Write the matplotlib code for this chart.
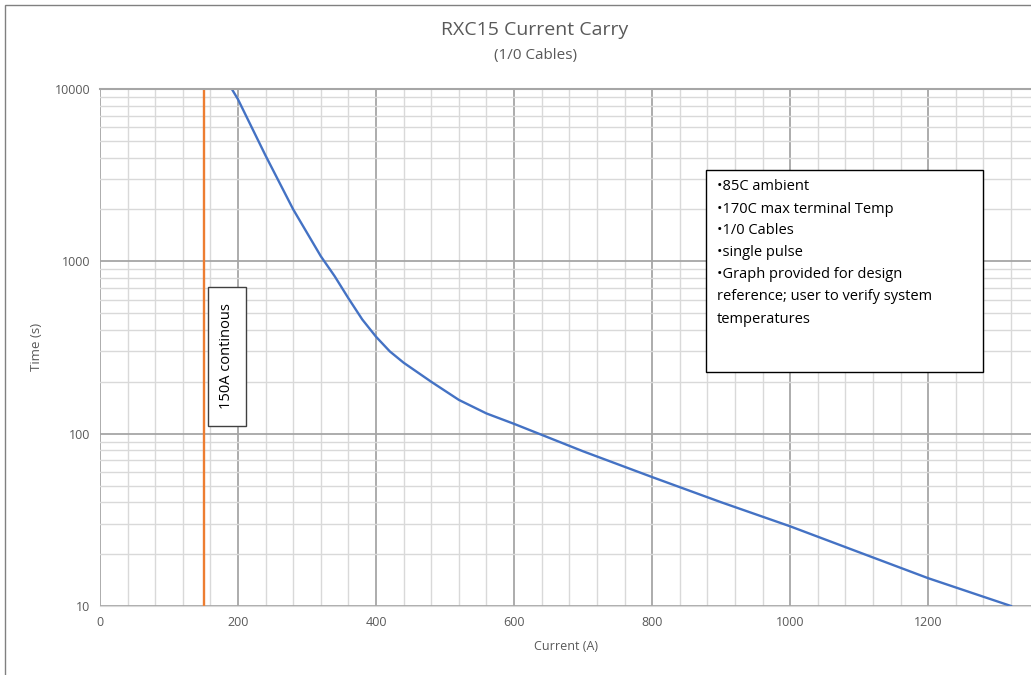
import matplotlib
matplotlib.use('Agg')
from matplotlib import pyplot as plt
from matplotlib.patches import Rectangle
from matplotlib.ticker import FixedLocator, NullFormatter

plt.rcParams['font.family'] = ['Open Sans', 'DejaVu Sans']

current = [191, 200, 240, 280, 320, 340, 360, 380, 400, 420, 440, 480, 520, 560, 600,
           700, 800, 900, 1000, 1100, 1200, 1320]
time_s = [10000, 8700, 4100, 2000, 1070, 820, 610, 460, 365, 300, 258, 200, 157, 131, 114,
          79, 56, 40, 29, 20.5, 14.5, 10]
continuous_a = 150

x_major = [0, 200, 400, 600, 800, 1000, 1200]
y_major = [10, 100, 1000, 10000]
notes = ['•85C ambient', '•170C max terminal Temp', '•1/0 Cables', '•single pulse',
         '•Graph provided for design', 'reference; user to verify system', 'temperatures']

W, H = 1031, 675
fig = plt.figure(figsize=(W / 100, H / 100), dpi=100)
ax = fig.add_axes([100 / W, (H - 606) / H, (W - 100) / W, (606 - 89) / H])

ax.set_yscale('log')
ax.set_xlim(0, 1349)
ax.set_ylim(10, 10000)

ax.xaxis.set_major_locator(FixedLocator(x_major))
ax.xaxis.set_minor_locator(FixedLocator([v for v in range(0, 1400, 40) if v % 200]))
ax.yaxis.set_major_locator(FixedLocator(y_major))
ax.yaxis.set_minor_locator(FixedLocator([m * 10 ** e for e in range(1, 4) for m in range(2, 10)]))
ax.yaxis.set_minor_formatter(NullFormatter())
ax.set_yticklabels([str(v) for v in y_major])

ax.grid(which='major', color='#a6a6a6', linewidth=1.3)
ax.grid(which='minor', color='#d9d9d9', linewidth=1.0)
ax.set_axisbelow(True)
ax.tick_params(which='both', length=0, labelsize=9, colors='#595959', pad=7)
for s in ['right', 'left']:
    ax.spines[s].set_visible(False)
ax.spines['top'].set_color('#a6a6a6')
ax.spines['top'].set_linewidth(1.5)
ax.spines['bottom'].set_color('#d9d9d9')

ax.plot(current, time_s, color='#4472C4', linewidth=1.7)
ax.axvline(continuous_a, color='#ED7D31', linewidth=1.7)

ax.set_xlabel('Current (A)', fontsize=9, color='#595959', labelpad=8)
fig.text(37 / W, 1 - 347 / H, 'Time (s)', rotation=90, ha='center', va='center',
         fontsize=9.5, color='#595959')

fig.text(535 / W, 1 - 30 / H, 'RXC15 Current Carry', ha='center', va='center', fontsize=14, color='#595959')
fig.text(535 / W, 1 - 55 / H, '(1/0 Cables)', ha='center', va='center', fontsize=11, color='#595959')

# chart frame
fig.patches.append(Rectangle((5 / W, -0.1), 1.2, 1 - 5 / H + 0.1, transform=fig.transFigure,
                             fill=False, edgecolor='#808080', linewidth=1.0))

# notes box
fig.patches.append(Rectangle((706 / W, 1 - 372 / H), (983 - 706) / W, (372 - 170) / H,
                             transform=fig.transFigure, facecolor='white', edgecolor='black',
                             linewidth=1.0, zorder=5))
for i, line in enumerate(notes):
    fig.text(717 / W, 1 - (187 + i * 22) / H, line, ha='left', va='center', fontsize=10.5,
             color='black', zorder=6)

# continuous label box
fig.patches.append(Rectangle((208 / W, 1 - 426 / H), 38 / W, 139 / H, transform=fig.transFigure,
                             facecolor='white', edgecolor='#404040', linewidth=1.0, zorder=5))
fig.text(227 / W, 1 - 356 / H, '150A continous', rotation=90, ha='center', va='center',
         fontsize=10.5, color='black', zorder=6)

fig.savefig('out.png', dpi=100)
